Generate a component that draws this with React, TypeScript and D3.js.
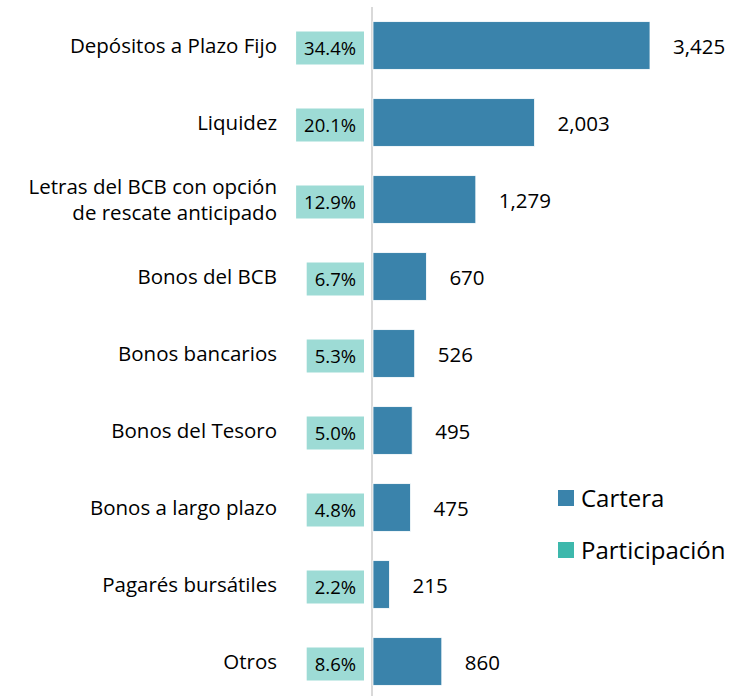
import React from "react";
import * as d3 from "d3";

const categories: string[][] = [
  ["Depósitos a Plazo Fijo"],
  ["Liquidez"],
  ["Letras del BCB con opción", "de rescate anticipado"],
  ["Bonos del BCB"],
  ["Bonos bancarios"],
  ["Bonos del Tesoro"],
  ["Bonos a largo plazo"],
  ["Pagarés bursátiles"],
  ["Otros"],
];
const cartera: number[] = [3425, 2003, 1279, 670, 526, 495, 475, 215, 860];
const participacion: number[] = [34.4, 20.1, 12.9, 6.7, 5.3, 5.0, 4.8, 2.2, 8.6];
const legendLabels = ["Cartera", "Participación"];

const W = 730;
const H = 696;
const FONT = "'Open Sans', sans-serif";
const PCT_SIZE = 18.5;
const LABEL_SIZE = 20.5;

function measure(text: string, size: number): number {
  const c = document.createElement("canvas").getContext("2d");
  if (!c) return text.length * size * 0.55;
  c.font = `${size}px 'Open Sans'`;
  return c.measureText(text).width;
}

export default function App() {
  const x0 = 372;
  const x = d3.scaleLinear().domain([0, 3425]).range([x0, 650]);
  const y = d3
    .scaleBand<number>()
    .domain(d3.range(categories.length))
    .range([7, 700])
    .paddingInner(0.38)
    .paddingOuter(0.19);
  const fmt = d3.format(",");
  const bw = y.bandwidth();
  return (
    <svg
      width={W}
      height={H}
      style={{ position: "absolute", left: 0, top: 0, background: "#fff" }}
      fontFamily={FONT}
    >
      <line x1={x0} x2={x0} y1={7} y2={H} stroke="#d9d9d9" strokeWidth={2} />
      {cartera.map((v, i) => {
        const yc = (y(i) as number) + bw / 2;
        const pct = participacion[i].toFixed(1) + "%";
        const tw = measure(pct, PCT_SIZE);
        const boxW = tw + 16;
        return (
          <g key={i}>
            <rect
              x={x0 + 1}
              y={y(i)}
              width={x(v) - x0 - 1}
              height={bw}
              fill="#3a83ab"
              stroke="#ffffff"
              strokeWidth={0.8}
            />
            <text
              x={x(v) + 23}
              y={yc + 1}
              dy="0.36em"
              fontSize={LABEL_SIZE}
              fill="#000"
            >
              {fmt(v)}
            </text>
            <rect
              x={364 - boxW}
              y={yc - 14}
              width={boxW}
              height={33}
              fill="#9ddbd5"
            />
            <text
              x={364 - boxW / 2}
              y={yc + 2.5}
              dy="0.36em"
              textAnchor="middle"
              fontSize={PCT_SIZE}
              fill="#000"
            >
              {pct}
            </text>
            {categories[i].map((line, k) => (
              <text
                key={k}
                x={277}
                y={yc + (k - (categories[i].length - 1) / 2) * 26}
                dy="0.36em"
                textAnchor="end"
                fontSize={LABEL_SIZE}
                fill="#000"
              >
                {line}
              </text>
            ))}
          </g>
        );
      })}
      {legendLabels.map((l, i) => (
        <g key={l} transform={`translate(558, ${490 + i * 52})`}>
          <rect width={16} height={16} fill={i === 0 ? "#3a83ab" : "#3db8ac"} />
          <text x={23} y={8} dy="0.36em" fontSize={24} fill="#000">
            {l}
          </text>
        </g>
      ))}
    </svg>
  );
}
